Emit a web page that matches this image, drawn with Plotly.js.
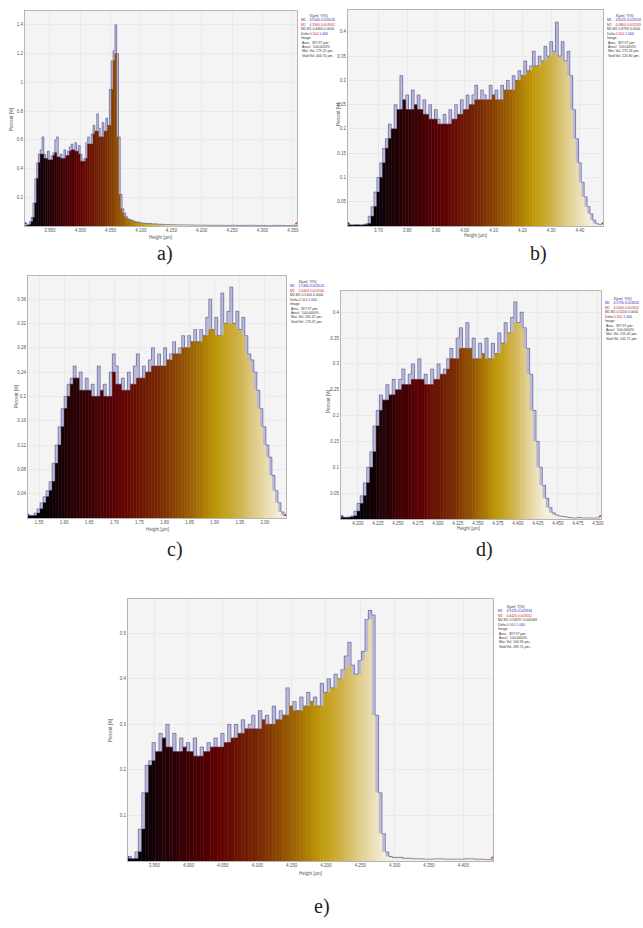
<!DOCTYPE html>
<html><head><meta charset="utf-8">
<script src="https://cdn.plot.ly/plotly-3.0.1.min.js"></script>
<style>body{margin:0;background:#fff}#chart{width:643px;height:928px}</style>
</head><body><div id="chart"></div>
<script>
// ---------------- data (percent per height bin) ----------------
const aMain = [0.005,0.01,0.03,0.06,0.16,0.33,0.44,0.50,0.53,0.62,0.50,0.47,0.52,0.46,0.49,0.51,0.60,0.62,0.48,0.50,0.47,0.53,0.49,0.52,0.55,0.57,0.53,0.58,0.52,0.56,0.50,0.45,0.47,0.58,0.62,0.57,0.64,0.70,0.66,0.78,0.68,0.62,0.72,0.66,0.75,0.70,0.95,1.15,1.22,1.40,1.20,0.62,0.22,0.12,0.09,0.065,0.05,0.045,0.04,0.035,0.03,0.028,0.025,0.022,0.02,0.02];
const aTail = [0.018,0.015,0.012,0.01,0.01,0.008,0.008,0.007,0.006,0.006,0.005,0.005,0.005,0.004,0.005,0.004,0.004,0.005,0.004,0.004,0.003,0.004,0.004,0.003,0.004];
const bMain = [0.003,0.002,0.003,0.003,0.002,0.003,0.005,0.02,0.04,0.07,0.10,0.13,0.16,0.18,0.21,0.20,0.25,0.24,0.31,0.26,0.27,0.24,0.28,0.25,0.27,0.24,0.26,0.23,0.25,0.22,0.24,0.22,0.21,0.23,0.21,0.24,0.22,0.25,0.23,0.26,0.24,0.27,0.25,0.27,0.29,0.26,0.28,0.27,0.26,0.29,0.27,0.28,0.26,0.29,0.28,0.30,0.28,0.31,0.30,0.32,0.31,0.34,0.32,0.33,0.36,0.33,0.35,0.34,0.37,0.35,0.38,0.36,0.42,0.35,0.38,0.34,0.36,0.31,0.24,0.18,0.13,0.09,0.06,0.04,0.025,0.012,0.005,0.003];
const bTail = [];
const cMain = [0.004,0.004,0.008,0.015,0.025,0.035,0.045,0.06,0.09,0.12,0.15,0.18,0.20,0.22,0.23,0.25,0.23,0.24,0.21,0.23,0.21,0.22,0.20,0.25,0.21,0.22,0.20,0.24,0.27,0.25,0.22,0.23,0.21,0.24,0.22,0.25,0.27,0.23,0.25,0.24,0.26,0.28,0.25,0.27,0.25,0.28,0.26,0.27,0.29,0.27,0.28,0.30,0.28,0.30,0.29,0.31,0.29,0.31,0.30,0.33,0.36,0.31,0.33,0.30,0.37,0.32,0.34,0.38,0.32,0.34,0.31,0.33,0.30,0.27,0.26,0.24,0.21,0.18,0.15,0.12,0.10,0.07,0.045,0.025,0.01,0.004];
const cTail = [];
const dMain = [0.004,0.003,0.004,0.006,0.015,0.03,0.045,0.07,0.10,0.13,0.18,0.21,0.24,0.23,0.26,0.24,0.27,0.25,0.27,0.29,0.26,0.28,0.30,0.27,0.31,0.27,0.28,0.26,0.29,0.27,0.30,0.28,0.29,0.31,0.33,0.31,0.35,0.37,0.33,0.38,0.33,0.35,0.31,0.34,0.32,0.35,0.31,0.34,0.32,0.36,0.34,0.38,0.36,0.39,0.42,0.38,0.40,0.37,0.33,0.28,0.21,0.15,0.10,0.065,0.04,0.022,0.012,0.008,0.006,0.005,0.004,0.003,0.002,0.002,0.003,0.002,0.002,0.002,0.002,0.002,0.002];
const dTail = [];
const eMain = [0.01,0.005,0.02,0.07,0.15,0.21,0.22,0.26,0.24,0.28,0.27,0.30,0.25,0.28,0.24,0.27,0.25,0.26,0.24,0.27,0.23,0.25,0.24,0.26,0.25,0.27,0.25,0.28,0.26,0.30,0.27,0.30,0.28,0.31,0.29,0.30,0.32,0.29,0.33,0.31,0.32,0.30,0.34,0.31,0.33,0.32,0.38,0.34,0.35,0.33,0.36,0.34,0.37,0.35,0.36,0.34,0.39,0.37,0.40,0.38,0.41,0.40,0.42,0.45,0.48,0.43,0.41,0.44,0.46,0.53,0.55,0.54,0.32,0.15,0.06,0.02,0.01];
const eTail = [0.008,0.006,0.005,0.004,0.005,0.004,0.004,0.005,0.004,0.003];

// tick labels
const aXTicks = [3.95,4.00,4.05,4.10,4.15,4.20,4.25,4.30,4.35];
const aYTicks = [0.2,0.4,0.6,0.8,1.0,1.2,1.4];
const bXTicks = [3.70,3.80,3.90,4.00,4.10,4.20,4.30,4.40];
const bYTicks = [0.05,0.1,0.15,0.2,0.25,0.3,0.35,0.4];
const cXTicks = [1.55,1.60,1.65,1.70,1.75,1.80,1.85,1.90,1.95,2.00];
const cYTicks = [0.04,0.08,0.12,0.16,0.2,0.24,0.28,0.32,0.36];
const dXTicks = [4.200,4.225,4.250,4.275,4.300,4.325,4.350,4.375,4.400,4.425,4.450,4.475,4.500];
const dYTicks = [0.05,0.1,0.15,0.2,0.25,0.3,0.35,0.4];
const eXTicks = [3.95,4.00,4.05,4.10,4.15,4.20,4.25,4.30,4.35,4.40];
const eYTicks = [0.1,0.2,0.3,0.4,0.5];

// cursor markers M1 / M2 (x positions)
const aMarks = [3.910, 4.356];
const bMarks = [3.597, 4.478];
const cMarks = [1.529, 2.041];
const dMarks = [4.180, 4.503];
const eMarks = [3.912, 4.442];

// info panels
const aInfo = [['X[µm]','Y[%]'],['3.9100','0.005024'],['4.3560','0.003501'],['0.4460','0.0000'],['0.500','1.000'],['397.97 µm²','100.0000%','179.25 µm³','404.70 µm³']];
const bInfo = [['X[µm]','Y[%]'],['3.6010','0.002924'],['4.4800','0.001203'],['0.8790','0.0000'],['0.500','1.000'],['397.97 µm²','100.0000%','275.16 µm³','120.80 µm³']];
const cInfo = [['X[µm]','Y[%]'],['1.5300','0.003524'],['2.0400','0.002500'],['0.5100','0.0000'],['0.500','1.000'],['397.97 µm²','100.0000%','205.47 µm³','173.07 µm³']];
const dInfo = [['X[µm]','Y[%]'],['4.1790','0.003624'],['4.5000','0.002402'],['0.3210','0.0000'],['0.500','1.000'],['397.97 µm²','100.0000%','155.42 µm³','105.71 µm³']];
const eInfo = [['X[µm]','Y[%]'],['3.9120','0.002934'],['4.4420','0.003502'],['0.53297','0.000568'],['0.500','1.000'],['397.97 µm²','100.0000%','104.96 µm³','269.71 µm³']];

// ---------------- layout config ----------------
const W = 643, H = 928;
const panels = [
  {main:aMain, tail:aTail, start:3.910, bw:0.003, tbw:0.01, span:[3.917,4.164], xr:[3.909,4.357], yr:[0,1.496], xt:aXTicks, yt:aYTicks, xfmt:'.3f', box:[25,297,11,226], info:aInfo, infoPos:[299,12], label:['a)',165,253], xtitle:[160,237], ytitle:[12,120], marks:aMarks},
  {main:bMain, tail:bTail, start:3.595, bw:0.01, tbw:0.01, span:[3.677,4.434], xr:[3.595,4.480], yr:[0,0.445], xt:bXTicks, yt:bYTicks, xfmt:'.2f', box:[348,603,10,226], info:bInfo, infoPos:[605,12], label:['b)',538,253], xtitle:[475,236], ytitle:[339,115], marks:bMarks},
  {main:cMain, tail:cTail, start:1.528, bw:0.006, tbw:0.006, span:[1.551,2.031], xr:[1.528,2.042], yr:[0,0.398], xt:cXTicks, yt:cYTicks, xfmt:'.2f', box:[28,286,276,518], info:cInfo, infoPos:[288,278], label:['c)',175,549], xtitle:[157,529], ytitle:[16,397], marks:cMarks},
  {main:dMain, tail:dTail, start:4.1788, bw:0.004, tbw:0.004, span:[4.203,4.434], xr:[4.1788,4.504], yr:[0,0.441], xt:dXTicks, yt:dYTicks, xfmt:'.3f', box:[341,601,291,519], info:dInfo, infoPos:[603,295], label:['d)',484,549], xtitle:[468,528], ytitle:[328,402], marks:dMarks},
  {main:eMain, tail:eTail, start:3.9117, bw:0.005, tbw:0.015, span:[3.922,4.2864], xr:[3.9117,4.4433], yr:[0,0.575], xt:eXTicks, yt:eYTicks, xfmt:'.3f', box:[128,493,599,861], info:eInfo, infoPos:[496,603], label:['e)',322,906], xtitle:[310,873], ytitle:[110,730], marks:eMarks}
];

const CMAP = [[0,'#000000'],[0.06,'#100206'],[0.33,'#5e0000'],[0.5,'#7a2a04'],[0.62,'#9a5c00'],[0.74,'#c09a06'],[0.82,'#cfb040'],[0.9,'#e2cf8e'],[1,'#f7f0dc']];
function hex(c){return [parseInt(c.slice(1,3),16),parseInt(c.slice(3,5),16),parseInt(c.slice(5,7),16)];}
function cmap(t){
  t=Math.max(0,Math.min(1,t));
  for(let k=1;k<CMAP.length;k++){
    if(t<=CMAP[k][0]){
      const t0=CMAP[k-1][0], t1=CMAP[k][0]; const a=hex(CMAP[k-1][1]), b=hex(CMAP[k][1]);
      const f=(t-t0)/(t1-t0);
      return 'rgb('+a.map((v,j)=>Math.round(v+(b[j]-v)*f)).join(',')+')';
    }
  }
  return CMAP[CMAP.length-1][1];
}

const traces = [], annotations = [], layout = {
  width:W, height:H, margin:{l:0,r:0,t:0,b:0}, paper_bgcolor:'#ffffff',
  showlegend:false, barmode:'overlay', bargap:0, font:{family:'Liberation Sans, Arial, sans-serif'},
  shapes:[]
};

panels.forEach((p,k)=>{
  const n = k===0 ? '' : String(k+1);
  const xa='x'+n, ya='y'+n;
  const cx=[], w=[], v=[], edges=[];
  p.main.forEach((val,i)=>{ const x0=p.start+i*p.bw; edges.push(x0); cx.push(x0+p.bw/2); w.push(p.bw); v.push(val); });
  const tStart = p.start + p.main.length*p.bw;
  p.tail.forEach((val,i)=>{ const x0=tStart+i*p.tbw; edges.push(x0); cx.push(x0+p.tbw/2); w.push(p.tbw); v.push(val); });
  const endX = edges[edges.length-1] + w[w.length-1];
  const fill = v.map((val,i)=>Math.min(val, i>0?v[i-1]:val, i<v.length-1?v[i+1]:val));
  const cols = cx.map(x=>cmap((x-p.span[0])/(p.span[1]-p.span[0])));
  traces.push({type:'bar', x:cx, y:v, width:w, xaxis:xa, yaxis:ya, marker:{color:'#b8b8d8', line:{width:0}}, hoverinfo:'skip'});
  traces.push({type:'bar', x:cx, y:fill, width:w, xaxis:xa, yaxis:ya, marker:{color:cols, line:{color:cols,width:0.4}}, hoverinfo:'skip'});
  traces.push({type:'scatter', mode:'lines', x:edges.concat([endX]), y:v.concat([v[v.length-1]]), xaxis:xa, yaxis:ya, line:{shape:'hv', color:'rgba(85,85,145,0.85)', width:0.7}, hoverinfo:'skip'});
  traces.push({type:'scatter', mode:'markers', x:[p.marks[0]], y:[p.yr[1]*0.012], xaxis:xa, yaxis:ya, marker:{color:'#3030c0', size:3, symbol:'triangle-up'}, cliponaxis:false});
  traces.push({type:'scatter', mode:'markers', x:[p.marks[1]], y:[p.yr[1]*0.012], xaxis:xa, yaxis:ya, marker:{color:'#e03030', size:3, symbol:'triangle-up'}, cliponaxis:false});

  const [L,R,T,B] = p.box;
  layout['xaxis'+n] = {domain:[L/W,R/W], anchor:ya, range:p.xr, tickvals:p.xt, tickformat:p.xfmt, tickfont:{size:4.5,color:'#555'}, ticks:'', showgrid:true, gridcolor:'#e2e2e2', gridwidth:0.6, zeroline:false, showline:true, mirror:true, linecolor:'#b5b5b5', linewidth:1};
  layout['yaxis'+n] = {domain:[1-B/H,1-T/H], anchor:xa, range:p.yr, tickvals:p.yt, tickfont:{size:4.5,color:'#555'}, ticks:'', showgrid:true, gridcolor:'#e2e2e2', gridwidth:0.6, zeroline:false, showline:true, mirror:true, linecolor:'#b5b5b5', linewidth:1};
  layout.shapes.push({type:'rect', xref:'paper', yref:'paper', x0:L/W, x1:R/W, y0:1-B/H, y1:1-T/H, fillcolor:'#f4f4f4', line:{width:0}, layer:'below'});

  annotations.push({xref:'paper', yref:'paper', x:p.label[1]/W, y:1-p.label[2]/H, text:p.label[0], showarrow:false, xanchor:'center', yanchor:'middle', font:{family:'Liberation Serif, Times New Roman, serif', size:20, color:'#222'}});
  annotations.push({xref:'paper', yref:'paper', x:p.xtitle[0]/W, y:1-p.xtitle[1]/H, text:'Height [µm]', showarrow:false, xanchor:'center', yanchor:'middle', font:{size:4.5, color:'#555'}});
  annotations.push({xref:'paper', yref:'paper', x:p.ytitle[0]/W, y:1-p.ytitle[1]/H, text:'Percent [%]', textangle:-90, showarrow:false, xanchor:'center', yanchor:'middle', font:{size:4.5, color:'#555'}});
  const I = p.info, sp='\u00a0';
  const lines = [
    sp.repeat(9)+I[0][0]+sp.repeat(2)+I[0][1],
    '<span style="color:#2a2ac8">M1'+sp.repeat(4)+I[1][0]+sp+I[1][1]+'</span>',
    '<span style="color:#d02020">M2'+sp.repeat(4)+I[2][0]+sp+I[2][1]+'</span>',
    'M2-M1'+sp+I[3][0]+sp+I[3][1],
    'Delta'+sp+'<span style="color:#d02020">'+I[4][0]+'</span>'+sp+'<span style="color:#2a2ac8">'+I[4][1]+'</span>',
    'Image:',
    sp+'Area'+sp.repeat(3)+I[5][0],
    sp+'Area#'+sp.repeat(2)+I[5][1],
    sp+'Mat.'+sp+'Vol.'+sp+I[5][2],
    sp+'Void'+sp+'Vol.'+sp+I[5][3]
  ];
  annotations.push({xref:'paper', yref:'paper', x:p.infoPos[0]/W, y:1-p.infoPos[1]/H, text:lines.join('<br>'), align:'left', showarrow:false, xanchor:'left', yanchor:'top', font:{size:3.4, color:'#333'}});
});
layout.annotations = annotations;
Plotly.newPlot('chart', traces, layout, {displayModeBar:false, staticPlot:true});
</script></body></html>
